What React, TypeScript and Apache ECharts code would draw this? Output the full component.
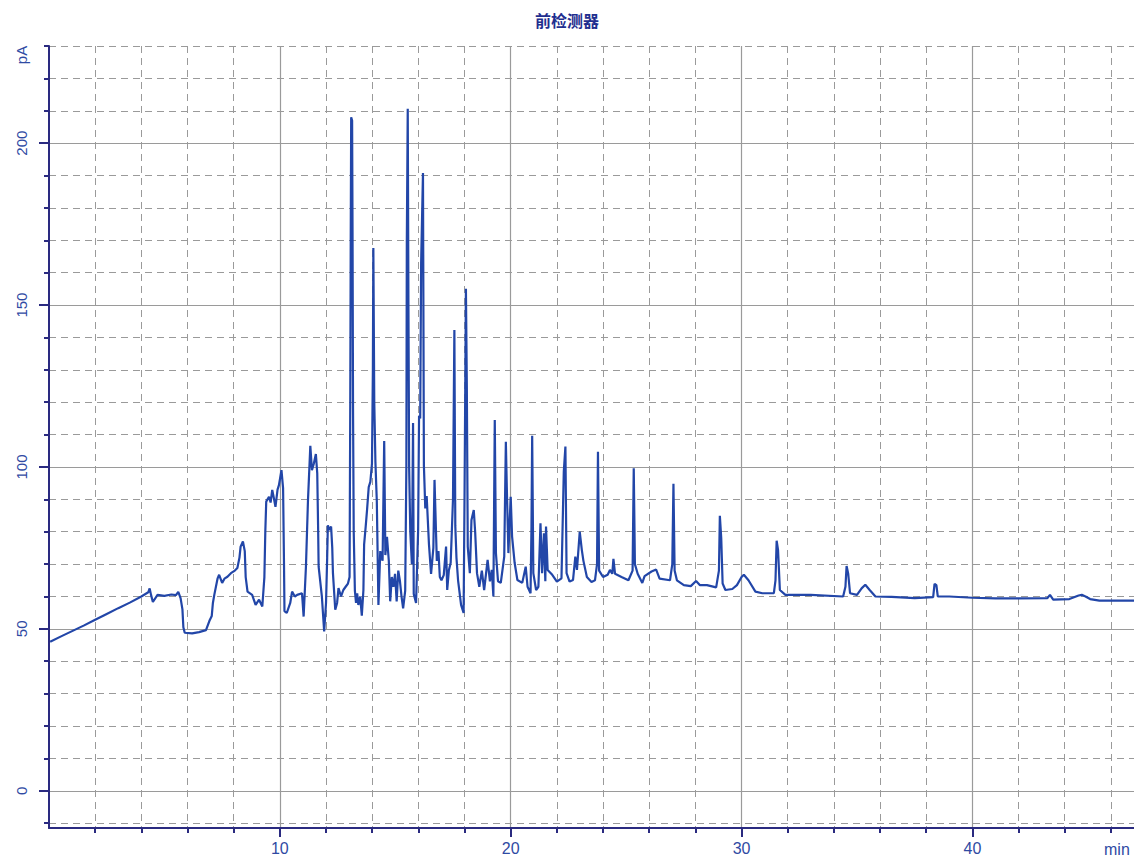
import React, { useEffect, useRef } from "react";
import * as echarts from "echarts";

const TITLE = "前检测器";
const Y_UNIT = "pA";
const X_UNIT = "min";

const X_MIN = 0;
const X_MAX = 47;
const Y_MIN = -11.5;
const Y_MAX = 230;

const xMajorValues = [10, 20, 30, 40];
const xMinorValues = [2, 4, 6, 8, 10, 12, 14, 16, 18, 20, 22, 24, 26, 28, 30, 32, 34, 36, 38, 40, 42, 44, 46];
const yMajorValues = [0, 50, 100, 150, 200];
const yMinorValues = [-10, 0, 10, 20, 30, 40, 50, 60, 70, 80, 90, 100, 110, 120, 130, 140, 150, 160, 170, 180, 190, 200, 210, 220, 230];

// Signal trace [time (min), signal (pA)]
const traceStart = [
  [0.05, 46], [0.5, 47.6], [1.0, 49.3], [1.5, 51.0], [2.0, 52.8], [2.5, 54.6], [3.0, 56.4], [3.5, 58.1],
  [4.0, 60.0], [4.3, 61.3], [4.36, 62.5], [4.42, 60.5], [4.5, 58.3], [4.7, 60.5], [5.0, 60.2], [5.3, 60.6],
  [5.5, 60.4], [5.6, 61.4], [5.7, 59.5], [5.78, 56], [5.82, 50.5], [5.88, 48.8], [6.2, 48.6], [6.5, 49.0], [6.8, 49.6],
  [6.95, 52.5], [7.05, 54], [7.1, 58], [7.16, 60.5], [7.3, 65.5], [7.37, 66.7], [7.5, 64.2], [7.6, 65.5], [7.73, 66.1],
  [7.88, 67.2], [8.05, 68], [8.16, 68.8], [8.25, 72], [8.3, 75.4], [8.4, 77], [8.48, 74], [8.52, 66], [8.6, 61.5], [8.8, 60.5],
  [8.95, 57.4], [9.1, 59], [9.24, 56.9], [9.33, 66], [9.37, 80], [9.41, 89.3], [9.53, 90.8], [9.6, 89], [9.67, 92.9],
  [9.75, 90], [9.81, 87.7], [9.9, 93], [9.96, 94.4], [10.07, 99], [10.14, 93.5], [10.18, 70], [10.2, 55.5], [10.3, 54.9],
];

const traceEarlyPeaks = [
  [10.45, 58], [10.53, 61.5], [10.65, 60], [10.75, 60.5], [10.96, 61], [11.03, 53.8], [11.13, 69.2], [11.22, 90],
  [11.32, 106.5], [11.39, 99], [11.47, 101], [11.56, 104], [11.62, 98], [11.66, 80], [11.68, 69.2], [11.82, 60],
  [11.92, 49.2], [12.0, 58], [12.05, 72], [12.08, 82], [12.15, 80.5], [12.22, 81.6], [12.27, 75], [12.3, 67.2], [12.4, 55.9],
  [12.48, 58], [12.54, 62.6], [12.65, 60], [12.75, 62], [12.85, 63], [12.95, 64],
];

const traceMainPeaks = [
  [13.02, 66], [13.05, 120], [13.07, 170], [13.09, 208], [13.13, 207], [13.15, 170], [13.17, 118],
  [13.2, 80], [13.25, 61.8], [13.3, 58], [13.35, 61], [13.4, 57.4], [13.48, 60], [13.55, 54.1], [13.62, 62], [13.65, 76], [13.72, 81.7],
  [13.78, 87], [13.85, 93.8], [13.92, 95.4], [13.99, 101], [14.03, 130], [14.05, 167.6], [14.09, 120],
  [14.14, 101.5], [14.2, 89.5], [14.27, 57.4], [14.35, 74], [14.45, 71], [14.52, 108], [14.57, 72.8],
  [14.64, 78.4], [14.72, 71], [14.78, 58.5], [14.85, 66], [14.92, 63], [14.99, 67], [15.06, 58.5], [15.13, 68], [15.2, 64.9],
  [15.27, 60], [15.34, 56.3], [15.43, 61.8], [15.48, 100], [15.5, 169.8], [15.54, 210.6], [15.57, 150], [15.6, 100],
  [15.65, 80], [15.72, 70], [15.77, 113.6], [15.8, 60.8], [15.9, 58], [15.99, 80.5], [16.03, 115.8],
  [16.08, 115], [16.12, 163], [16.2, 190.8], [16.24, 100.4], [16.3, 87.2], [16.36, 91], [16.46, 76],
  [16.55, 67], [16.65, 75], [16.7, 96], [16.8, 71], [16.87, 74], [16.93, 66], [17.0, 65], [17.1, 66.6], [17.2, 75.4], [17.25, 62],
  [17.32, 68], [17.4, 70.4], [17.5, 90], [17.56, 142.3], [17.6, 81.8], [17.65, 72], [17.72, 65], [17.85, 57.4],
  [17.96, 54.9], [18.0, 90.8], [18.06, 155], [18.1, 124.4], [18.14, 75.4], [18.23, 67.2], [18.3, 83.6],
  [18.4, 86.7], [18.46, 80], [18.54, 67.2], [18.64, 63], [18.75, 68], [18.85, 62], [19.0, 71.3],
  [19.1, 64.7], [19.18, 68.2], [19.25, 60], [19.31, 114.5], [19.36, 73.4], [19.45, 64.7], [19.57, 64.2],
  [19.72, 72.3], [19.79, 107.8], [19.83, 94], [19.9, 73.4], [20.0, 90.8], [20.06, 78.5], [20.17, 70.4],
  [20.29, 65.1], [20.5, 64.2], [20.65, 69.2], [20.73, 63], [20.86, 61], [20.9, 81.6], [20.93, 109.6],
  [20.98, 67.2], [21.1, 62], [21.2, 63], [21.29, 82.6], [21.36, 67.2], [21.44, 79.5], [21.5, 64.7],
  [21.53, 81.6], [21.6, 68.2], [21.8, 66.7], [22.0, 64.6], [22.2, 65.6], [22.3, 98.6], [22.37, 106.3],
  [22.42, 67.2], [22.55, 64.6], [22.7, 65.1], [22.8, 72.3], [22.87, 68.2], [22.99, 80], [23.08, 74.4],
  [23.15, 71], [23.3, 66],
];

const traceLate = [
  [23.5, 64.5], [23.65, 65], [23.74, 70], [23.78, 104.7], [23.83, 68], [24.0, 66], [24.2, 66.7],
  [24.3, 68.2], [24.4, 67], [24.45, 71.6], [24.52, 67], [24.8, 66], [25.1, 65], [25.28, 68], [25.33, 99.6],
  [25.38, 70], [25.5, 67], [25.7, 64.2], [25.8, 66.3], [26.1, 67.7], [26.3, 68.3], [26.45, 65.5],
  [26.9, 65], [27.0, 70], [27.05, 94.8], [27.1, 68], [27.2, 65], [27.5, 63.5], [27.8, 63.2], [28.03, 64.8],
  [28.2, 63.5], [28.5, 63.5], [28.9, 62.8], [29.02, 68], [29.06, 84.9], [29.12, 78], [29.18, 64],
  [29.3, 62], [29.6, 62.3], [29.8, 63.5], [30.0, 66], [30.1, 66.7], [30.3, 65], [30.6, 61.5], [30.9, 61],
  [31.4, 61], [31.47, 65], [31.52, 77.2], [31.58, 74.4], [31.66, 62], [31.9, 60.5], [33.0, 60.5],
  [34.4, 60], [34.5, 63], [34.55, 69.4], [34.62, 67], [34.7, 61], [35.0, 60.5], [35.2, 62.5],
  [35.36, 63.6], [35.55, 62], [35.8, 60], [36.5, 59.9], [37.5, 59.5], [38.3, 59.8], [38.36, 63.9],
  [38.44, 63.5], [38.5, 60], [39.0, 60], [40.0, 59.6], [41.0, 59.4], [42.0, 59.4], [43.25, 59.5],
  [43.36, 60.5], [43.5, 59], [44.2, 59.2], [44.6, 60.3], [44.74, 60.5], [44.9, 60], [45.1, 59.2],
  [45.5, 58.7], [46.7, 58.7], [47, 58.7],
];

const AXIS_COLOR = "#2a2a80";
const LABEL_COLOR = "#2f4aa3";
const GRID_COLOR = "#9a9a9a";
const LINE_COLOR = "#2246a8";

export default function App() {
  const ref = useRef<HTMLDivElement>(null);

  useEffect(() => {
    if (!ref.current) return;
    const chart = echarts.init(ref.current, undefined, { renderer: "svg" });
    const trace = [...traceStart, ...traceEarlyPeaks, ...traceMainPeaks, ...traceLate];
    const font = "'Liberation Sans', Arial, sans-serif";

    chart.setOption({
      animation: false,
      backgroundColor: "#ffffff",
      grid: { left: 49, top: 46, width: 1092, bottom: 29, containLabel: false },
      xAxis: [
        {
          type: "value",
          min: X_MIN,
          max: X_MAX,
          position: "bottom",
          axisLine: { show: true, onZero: false, lineStyle: { color: AXIS_COLOR, width: 2 } },
          axisTick: { show: true, customValues: xMinorValues, length: 5, lineStyle: { color: AXIS_COLOR, width: 2 } },
          axisLabel: { show: false },
          splitLine: { show: true, lineStyle: { color: GRID_COLOR, type: [7, 5], width: 1 } },
        },
        {
          type: "value",
          min: X_MIN,
          max: X_MAX,
          position: "bottom",
          axisLine: { show: false, onZero: false },
          axisTick: { show: true, customValues: xMajorValues, length: 9, lineStyle: { color: AXIS_COLOR, width: 2 } },
          axisLabel: {
            show: true,
            customValues: xMajorValues,
            color: LABEL_COLOR,
            fontSize: 16,
            fontFamily: font,
            margin: 12,
          },
          splitLine: { show: true, lineStyle: { color: GRID_COLOR, type: "solid", width: 1.2 } },
        },
      ],
      yAxis: [
        {
          type: "value",
          min: Y_MIN,
          max: Y_MAX,
          position: "left",
          axisLine: { show: true, onZero: false, lineStyle: { color: AXIS_COLOR, width: 2 } },
          axisTick: { show: true, customValues: yMinorValues, length: 5, lineStyle: { color: AXIS_COLOR, width: 2 } },
          axisLabel: { show: false },
          splitLine: { show: true, lineStyle: { color: GRID_COLOR, type: [7, 5], width: 1 } },
        },
        {
          type: "value",
          min: Y_MIN,
          max: Y_MAX,
          position: "left",
          axisLine: { show: false, onZero: false },
          axisTick: { show: true, customValues: yMajorValues, length: 10, lineStyle: { color: AXIS_COLOR, width: 2 } },
          axisLabel: {
            show: true,
            customValues: yMajorValues,
            rotate: 90,
            color: LABEL_COLOR,
            fontSize: 15,
            fontFamily: font,
            margin: 20,
          },
          splitLine: { show: true, lineStyle: { color: GRID_COLOR, type: "solid", width: 1.2 } },
        },
      ],
      graphic: [
        {
          type: "text",
          left: "center",
          top: 12,
          style: {
            text: TITLE,
            fill: "#1f2f8f",
            font: "bold 16px 'Noto Sans CJK SC', sans-serif",
          },
        },
        {
          type: "text",
          x: 21,
          y: 55,
          rotation: Math.PI / 2,
          style: {
            text: Y_UNIT,
            fill: LABEL_COLOR,
            font: "15px 'Liberation Sans', Arial, sans-serif",
            align: "center",
            verticalAlign: "middle",
          },
        },
        {
          type: "text",
          x: 1104,
          y: 849,
          style: {
            text: X_UNIT,
            fill: LABEL_COLOR,
            font: "16px 'Liberation Sans', Arial, sans-serif",
            align: "left",
            verticalAlign: "middle",
          },
        },
      ],
      series: [
        {
          type: "line",
          xAxisIndex: 0,
          yAxisIndex: 0,
          data: trace,
          showSymbol: false,
          symbol: "none",
          lineStyle: { color: LINE_COLOR, width: 2.2 },
          z: 5,
        },
      ],
    });

    return () => chart.dispose();
  }, []);

  return (
    <div
      ref={ref}
      style={{ position: "fixed", left: 0, top: 0, width: 1134, height: 857 }}
    />
  );
}
